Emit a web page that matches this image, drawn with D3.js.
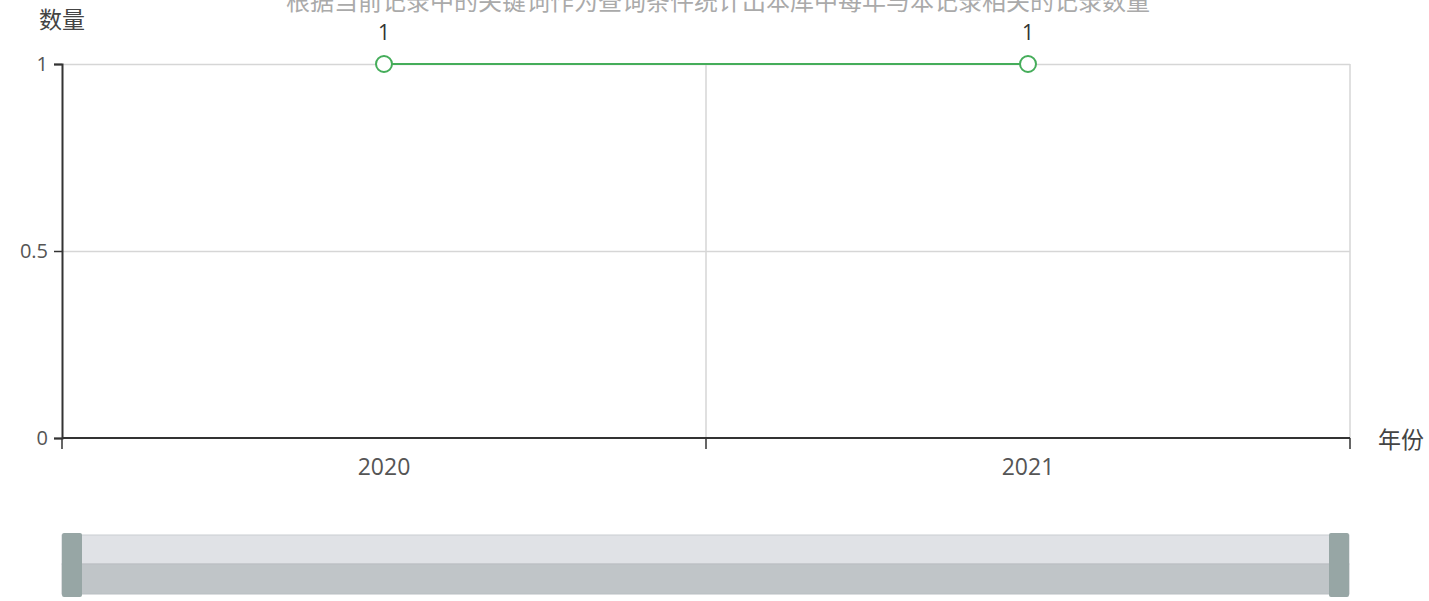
<!DOCTYPE html>
<html>
<head>
<meta charset="utf-8">
<script src="https://cdn.jsdelivr.net/npm/d3@7"></script>
<style>
  html, body { margin: 0; padding: 0; background: #fff; }
  svg text { font-family: "Noto Sans CJK SC", "Noto Sans", sans-serif; }
</style>
</head>
<body>
<div id="chart"></div>
<script>
// chart data
const years = ['2020', '2021']
const counts = [1, 1]
const yTicks = [0, 0.5, 1]
const titleText = '根据当前记录中的关键词作为查询条件统计出本库中每年与本记录相关的记录数量'
const xName = '年份'
const yName = '数量'

const width = 1429
const height = 601
const grid = { left: 62, right: 1350, top: 64, bottom: 438 }
const lineColour = '#45ad5a'

const svg = d3.select('#chart').append('svg')
  .attr('width', width)
  .attr('height', height)

const x = d3.scaleBand().domain(years).range([grid.left, grid.right])
const y = d3.scaleLinear().domain([0, 1]).range([grid.bottom, grid.top])

// title (cut off at the top of the frame, as in the original)
svg.append('text')
  .attr('x', 718)
  .attr('y', 10)
  .attr('text-anchor', 'middle')
  .attr('font-size', 24)
  .attr('fill', '#aaa')
  .text(titleText)

// horizontal split lines
svg.append('g')
  .selectAll('line')
  .data(yTicks.filter(d => d !== 0))
  .enter()
  .append('line')
    .attr('x1', grid.left).attr('x2', grid.right)
    .attr('y1', d => y(d) + 0.5).attr('y2', d => y(d) + 0.5)
    .attr('stroke', '#d6d6d6')
    .attr('stroke-width', 1.5)

// vertical split lines at band boundaries
const boundaries = years.map(d => x(d) + x.bandwidth())
svg.append('g')
  .selectAll('line')
  .data(boundaries)
  .enter()
  .append('line')
    .attr('x1', d => d).attr('x2', d => d)
    .attr('y1', grid.top).attr('y2', grid.bottom)
    .attr('stroke', '#d6d6d6')
    .attr('stroke-width', 1.5)

// y axis
const yAxis = d3.axisLeft(y).tickValues(yTicks).tickSize(8).tickPadding(6)
  .tickFormat(d => d === 0.5 ? '0.5' : String(d))
const yg = svg.append('g')
  .attr('transform', 'translate(' + grid.left + ',0)')
  .call(yAxis)
yg.select('.domain').attr('stroke', '#333').attr('stroke-width', 2)
yg.selectAll('.tick line').attr('stroke', '#333').attr('stroke-width', 1.5)
yg.selectAll('.tick text')
  .attr('font-size', 20)
  .attr('fill', '#555')
  .style('font-family', '"Open Sans", sans-serif')

// x axis, ticks on band edges
const xEdge = d3.scaleLinear().domain([0, years.length]).range([grid.left, grid.right])
const xg = svg.append('g')
  .attr('transform', 'translate(0,' + grid.bottom + ')')
xg.append('line')
  .attr('x1', grid.left).attr('x2', grid.right)
  .attr('stroke', '#333').attr('stroke-width', 2)
xg.selectAll('.edge')
  .data(d3.range(years.length + 1))
  .enter()
  .append('line')
    .attr('class', 'edge')
    .attr('x1', d => xEdge(d)).attr('x2', d => xEdge(d))
    .attr('y1', 0).attr('y2', 11)
    .attr('stroke', '#333').attr('stroke-width', 1.5)
xg.selectAll('.lab')
  .data(years)
  .enter()
  .append('text')
    .attr('class', 'lab')
    .attr('x', d => x(d) + x.bandwidth() / 2)
    .attr('y', 37)
    .attr('text-anchor', 'middle')
    .attr('font-size', 23)
    .attr('fill', '#555')
    .style('font-family', '"Open Sans", sans-serif')
    .text(d => d)

// axis names
svg.append('text')
  .attr('x', 62).attr('y', 28)
  .attr('text-anchor', 'middle')
  .attr('font-size', 23)
  .attr('fill', '#444')
  .text(yName)
svg.append('text')
  .attr('x', 1378).attr('y', 448)
  .attr('font-size', 23)
  .attr('fill', '#444')
  .text(xName)

// series line
const points = years.map((d, i) => ({ year: d, value: counts[i] }))
const line = d3.line()
  .x(d => x(d.year) + x.bandwidth() / 2)
  .y(d => y(d.value))
svg.append('path')
  .datum(points)
  .attr('d', line)
  .attr('fill', 'none')
  .attr('stroke', lineColour)
  .attr('stroke-width', 2)

svg.selectAll('.pt')
  .data(points)
  .enter()
  .append('circle')
    .attr('class', 'pt')
    .attr('cx', d => x(d.year) + x.bandwidth() / 2)
    .attr('cy', d => y(d.value))
    .attr('r', 8)
    .attr('fill', '#fff')
    .attr('stroke', lineColour)
    .attr('stroke-width', 2)

svg.selectAll('.val')
  .data(points)
  .enter()
  .append('text')
    .attr('class', 'val')
    .attr('x', d => x(d.year) + x.bandwidth() / 2)
    .attr('y', d => y(d.value) - 24)
    .attr('text-anchor', 'middle')
    .attr('font-size', 21)
    .attr('fill', '#333')
    .style('font-family', '"Open Sans", sans-serif')
    .text(d => d.value)

// data zoom slider
const zoom = { left: 62, right: 1349, top: 535, mid: 564, bottom: 594 }
const zg = svg.append('g')
zg.append('rect')
  .attr('x', zoom.left).attr('y', zoom.top)
  .attr('width', zoom.right - zoom.left).attr('height', zoom.mid - zoom.top)
  .attr('fill', '#e0e2e6').attr('stroke', '#c9cdd1').attr('stroke-width', 1)
zg.append('rect')
  .attr('x', zoom.left).attr('y', zoom.mid)
  .attr('width', zoom.right - zoom.left).attr('height', zoom.bottom - zoom.mid)
  .attr('fill', '#c0c5c8').attr('stroke', '#b9bec2').attr('stroke-width', 1)
zg.selectAll('.handle')
  .data([zoom.left, zoom.right - 20])
  .enter()
  .append('rect')
    .attr('class', 'handle')
    .attr('x', d => d).attr('y', 533)
    .attr('width', 20).attr('height', 64)
    .attr('rx', 2)
    .attr('fill', '#97a6a5')
</script>
</body>
</html>
